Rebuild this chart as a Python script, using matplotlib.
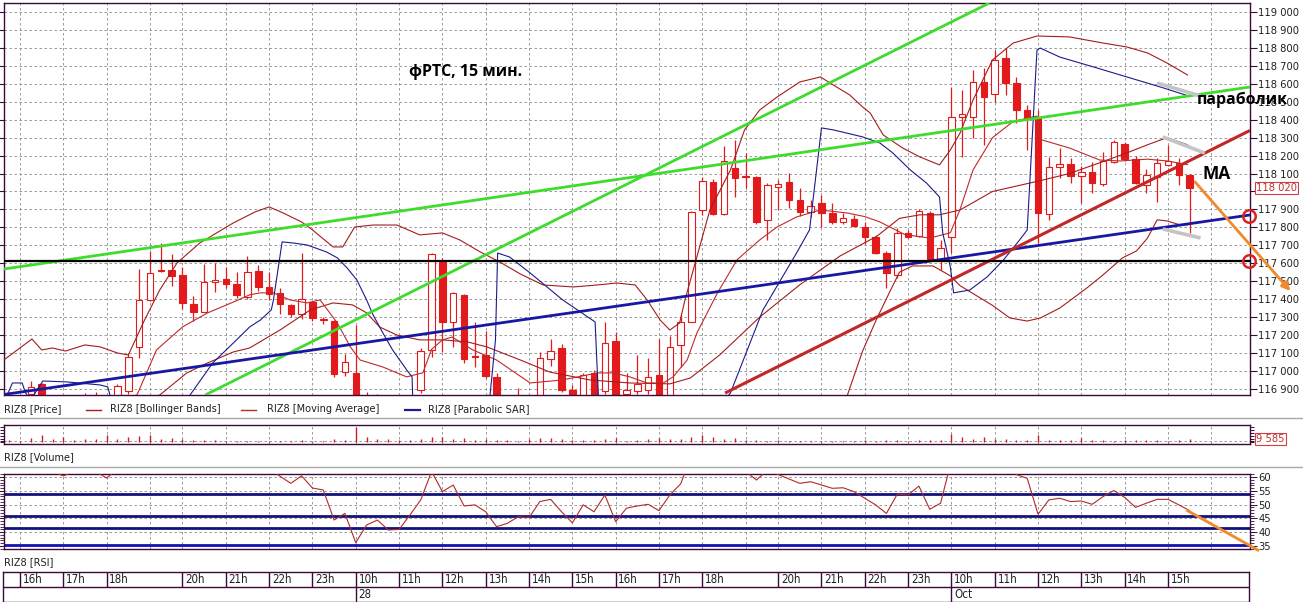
import numpy as np
import matplotlib
matplotlib.use('Agg')
import matplotlib.pyplot as plt
from matplotlib.lines import Line2D
from matplotlib.patches import Rectangle
from matplotlib.ticker import FuncFormatter
import matplotlib.transforms as mtransforms
from matplotlib import font_manager

# ---------------- DATA ----------------
# OHLC per 15-min bar (bar index 0..109)
opens = [116820, 116800, 116872, 116928, 116820, 116800, 116790, 116810, 116820, 116840,
         116830, 116890, 117132, 117396, 117557, 117563, 117535, 117373, 117330, 117494,
         117511, 117483, 117414, 117557, 117466, 117433, 117368, 117316, 117383, 117287,
         117279, 116993, 116987, 116750, 116800, 116760, 116740, 116780, 116894, 117117,
         117609, 117275, 117423, 117082, 117089, 116965, 116830, 116800, 116850, 116850,
         117065, 117126, 116894, 116830, 116987, 116890, 117165, 116872, 116890, 116894,
         116978, 116850, 117145, 117275, 117897, 118051, 117875, 118129, 118085, 118083,
         117841, 118023, 118051, 117953, 117887, 117934, 117882, 117832, 117845, 117800,
         117748, 117659, 117535, 117770, 117752, 117882, 117618, 117745, 118413, 118417,
         118612, 118542, 118742, 118606, 118454, 118408, 117875, 118138, 118152, 118086,
         118110, 118040, 118163, 118265, 118179, 118036, 118083, 118148, 118161, 118092]
highs = [116850, 116840, 116946, 116935, 116850, 116840, 116830, 116875, 116880, 116860,
         116930, 117100, 117567, 117668, 117715, 117650, 117581, 117418, 117596, 117600,
         117581, 117550, 117641, 117590, 117553, 117461, 117375, 117659, 117390, 117303,
         117285, 117095, 117256, 116880, 116870, 116820, 116800, 116840, 117126, 117656,
         117630, 117440, 117430, 117275, 117220, 116990, 116860, 116905, 116860, 117108,
         117176, 117150, 116920, 116987, 117005, 117275, 117219, 116987, 117089, 117071,
         117176, 117195, 117312, 117890, 118079, 118070, 118253, 118287, 118213, 118085,
         118045, 118062, 118101, 118018, 117953, 117980, 117934, 117880, 117869, 117830,
         117760, 117670, 117795, 117785, 117900, 117890, 117730, 118580, 118565, 118677,
         118686, 118788, 118798, 118640, 118480, 118454, 118194, 118240, 118187, 118140,
         118166, 118222, 118285, 118275, 118198, 118124, 118187, 118259, 118185, 118095]
lows = [116760, 116750, 116840, 116800, 116780, 116760, 116750, 116780, 116790, 116800,
        116820, 116872, 117071, 117390, 117550, 117474, 117344, 117280, 117330, 117438,
        117461, 117408, 117400, 117447, 117396, 117316, 117300, 117288, 117280, 117262,
        116968, 116972, 116700, 116700, 116720, 116700, 116690, 116740, 116877, 117080,
        117108, 117135, 117043, 117021, 116960, 116800, 116760, 116770, 116780, 116820,
        117028, 116880, 116800, 116810, 116820, 116870, 116800, 116820, 116870, 116870,
        116800, 116840, 117024, 117270, 117869, 117869, 117870, 117971, 118018, 117819,
        117730, 117897, 117906, 117864, 117860, 117804, 117820, 117820, 117800, 117708,
        117650, 117461, 117520, 117740, 117745, 117610, 117563, 117656, 118192, 118296,
        118259, 118500, 118538, 118380, 118231, 117711, 117841, 118074, 118046, 117934,
        117990, 118030, 118160, 118170, 118040, 117990, 117943, 118140, 118036, 117767]
closes = [116800, 116830, 116913, 116820, 116800, 116790, 116810, 116820, 116840, 116830,
          116916, 117080, 117396, 117544, 117560, 117531, 117381, 117330, 117494, 117507,
          117483, 117423, 117553, 117470, 117429, 117373, 117316, 117401, 117294, 117282,
          116983, 117052, 116750, 116800, 116760, 116740, 116780, 116820, 117113, 117652,
          117275, 117433, 117065, 117078, 116972, 116830, 116800, 116850, 116840, 117073,
          117113, 116894, 116830, 116980, 116850, 117154, 116830, 116894, 116926, 116965,
          116840, 117132, 117275, 117887, 118060, 117875, 118172, 118073, 118081, 117832,
          118036, 118042, 117953, 117887, 117921, 117882, 117832, 117850, 117808, 117748,
          117659, 117544, 117770, 117748, 117893, 117622, 117684, 118413, 118430, 118612,
          118528, 118733, 118603, 118454, 118408, 117882, 118138, 118153, 118088, 118110,
          118049, 118170, 118278, 118179, 118049, 118092, 118161, 118172, 118092, 118020]

volume = [6000, 5000, 12000, 22000, 9000, 18000, 8000, 11000, 9000, 23000,
          11000, 16000, 20000, 22000, 11000, 13000, 9000, 7000, 6500, 5500,
          4500, 3500, 4500, 3500, 3000, 4500, 3500, 5500, 4500, 3000,
          9000, 7500, 47000, 16000, 9000, 11000, 7500, 6500, 11000, 16000,
          15000, 9000, 13000, 5500, 11000, 7500, 5500, 4500, 9000, 13000,
          12000, 11000, 5500, 6500, 5500, 11000, 13000, 4500, 5500, 9000,
          13000, 11000, 11000, 16000, 24000, 15000, 11000, 13000, 7500, 5500,
          4500, 5500, 4500, 3500, 3500, 4500, 3500, 3500, 4500, 5500,
          3500, 7500, 6500, 4500, 5500, 7500, 5500, 26000, 15000, 9000,
          15000, 11000, 9000, 5500, 5500, 22000, 7500, 5500, 6500, 12000,
          5500, 5500, 4500, 5500, 6500, 5500, 5500, 4500, 5500, 9585]

rsi = [66, 68, 65, 63, 62, 60.4, 62, 64, 62, 59.6,
       63, 66, 70, 74, 72, 70, 68, 66, 67, 67,
       66, 65, 66, 64, 63, 60.3, 57.7, 60.4, 56.0, 55.3,
       44.4, 46.8, 36.2, 42.6, 44.4, 40.8, 41.0, 46.2, 51.7, 62,
       54.7, 57.1, 49.5, 49.9, 47.4, 42.0, 43.2, 45.6, 45.3, 51.1,
       51.9, 47.4, 43.4, 49.9, 47.4, 53.5, 43.8, 48.7, 49.5, 50.1,
       47.8, 53.5, 57.5, 68, 72, 67, 70, 66, 62, 58.9,
       62.5, 60.9, 59.3, 57.7, 58.3, 57.1, 55.9, 56.1, 54.7, 52.3,
       49.9, 46.8, 53.8, 53.5, 56.7, 48.3, 50.5, 66, 66, 69,
       67, 71, 68, 60.9, 59.5, 46.5, 51.7, 52.3, 51.1, 51.3,
       50.1, 52.9, 55.1, 52.6, 49.0, 50.5, 51.9, 51.9, 49.9, 47.8]

# indicator polylines: (bar index, price)
bb_upper = [(-0.5, 117061), (2.1, 117178), (3.0, 117117), (4.0, 117128), (5.2, 117111),
            (7.0, 117145), (8.4, 117134), (10.0, 117100), (11.0, 117089), (12.5, 117284),
            (13.9, 117451), (15.5, 117602), (17.6, 117713), (20.7, 117825), (22.7, 117886),
            (24.0, 117914), (25.3, 117880), (27.0, 117830), (28.0, 117786), (29.9, 117691),
            (30.8, 117691), (31.9, 117802), (33.6, 117813), (35.8, 117813), (37.9, 117758),
            (40.0, 117769), (41.6, 117730), (43.5, 117663), (45.3, 117607), (47.2, 117540),
            (49.3, 117479), (52.1, 117468), (54.3, 117479), (56.1, 117490), (57.8, 117479),
            (58.9, 117396), (60.1, 117284), (61.0, 117228), (61.9, 117267), (62.4, 117396),
            (63.8, 117702), (64.7, 117897), (66.6, 118120), (67.9, 118343), (69.3, 118454),
            (70.9, 118526), (73.0, 118610), (74.9, 118638), (76.1, 118593), (77.6, 118538),
            (78.8, 118471), (79.5, 118437), (80.7, 118315), (82.5, 118242), (84.1, 118192),
            (85.9, 118148), (86.9, 118231), (87.8, 118326), (89.0, 118510), (90.8, 118733),
            (92.7, 118827), (94.9, 118866), (97.9, 118861), (101.0, 118827), (103.2, 118805),
            (105.1, 118772), (106.9, 118716), (108.8, 118649)]
bb_middle = [(-0.5, 116700), (8, 116760), (12, 116830), (13.9, 116866), (16.4, 116989),
             (18.3, 117044), (20.7, 117106), (22.2, 117128), (25.0, 117228), (27.8, 117340),
             (29.9, 117379), (31.7, 117368), (33.0, 117324), (34.2, 117245), (35.8, 117200),
             (37.9, 117173), (40.0, 117173), (42.3, 117162), (44.1, 117134), (47.2, 117061),
             (49.9, 116994), (53.6, 116950), (57.3, 116933), (61.0, 116928), (62.9, 116961),
             (65.6, 117089), (69.3, 117300), (73.0, 117480), (76.7, 117640), (80.1, 117750),
             (82.2, 117850), (84.1, 117870), (85.9, 117870), (87.8, 117897), (90.8, 118000),
             (95.2, 118060), (97.9, 118100), (100.7, 118160), (103.2, 118215), (105.1, 118260),
             (106.9, 118300), (108.8, 118260)]
bb_lower = [(-0.5, 116500), (30, 116600), (45, 116700), (55, 116780), (62, 116800),
            (65, 116600), (70, 116400), (75, 116600), (77.4, 116866), (78.8, 117111),
            (80.1, 117290), (81.3, 117440), (82.2, 117550), (83.4, 117585), (85.3, 117585),
            (86.9, 117530), (87.8, 117475), (90.8, 117365), (92.4, 117295), (94.0, 117278),
            (95.2, 117295), (97.0, 117350), (99.5, 117462), (101.0, 117535), (102.8, 117630),
            (104.1, 117669), (105.1, 117740), (106.0, 117842), (106.9, 117836), (108.1, 117814),
            (108.8, 117814)]
moving_avg = [(-0.5, 116800), (6, 116820), (10, 116840), (11.8, 116866), (13.6, 117117),
              (16.0, 117245), (18.3, 117323), (20.7, 117384), (22.2, 117424), (23.2, 117435),
              (24.4, 117435), (25.9, 117396), (27.5, 117379), (28.7, 117396), (30.3, 117267),
              (31.5, 117134), (32.4, 117061), (34.5, 117022), (36.7, 116967), (38.2, 116990),
              (39.0, 117120), (40.0, 117173), (40.9, 117189), (42.8, 117117), (45.0, 117061),
              (48.1, 116933), (51.1, 116950), (54.3, 116989), (55.8, 116989), (57.3, 116967),
              (58.9, 116933), (60.4, 116933), (61.3, 116967), (62.6, 117061), (63.5, 117212),
              (65.4, 117435), (67.2, 117619), (69.3, 117730), (70.9, 117802), (72.7, 117858),
              (74.9, 117897), (77.4, 117880), (79.0, 117860), (80.4, 117830), (82.7, 117760),
              (85.0, 117740), (86.9, 117770), (87.8, 117900), (89.0, 118120), (90.8, 118300),
              (92.7, 118390), (94.9, 118420), (95.2, 118290), (97.9, 118242), (100.7, 118175),
              (102.6, 118170), (105.1, 118180), (106.9, 118170), (108.8, 118150)]
parabolic_sar = [(-0.1, 116878), (0.3, 116933), (1.2, 116933), (1.5, 116878), (2.0, 116840),
                 (3.1, 116944), (5.3, 116939), (8.4, 116922), (9.1, 116911), (9.3, 116866),
                 (10, 116750), (13, 116700), (16.7, 116866), (18.8, 117045), (20.7, 117156),
                 (22.2, 117245), (23.2, 117284), (24.2, 117340), (24.4, 117396), (25.2, 117719),
                 (26.2, 117713), (27.5, 117702), (29.3, 117663), (30.3, 117630), (31.2, 117574),
                 (32.1, 117507), (33.0, 117396), (33.6, 117312), (34.5, 117212), (35.4, 117117),
                 (36.7, 117006), (37.2, 116967), (37.25, 116866), (40, 116600), (44.4, 116866),
                 (44.9, 117173), (45.1, 117657), (46.2, 117635), (48.1, 117546), (51.1, 117396),
                 (54.1, 117273), (54.4, 116866), (58, 116500), (63, 116600), (66.6, 116878),
                 (69.6, 117340), (72.7, 117657), (73.9, 117786), (75.0, 118354), (76.1, 118343),
                 (78.8, 118304), (80.4, 118270), (81.6, 118214), (83.2, 118120), (84.7, 118047),
                 (85.9, 117969), (86.2, 117769), (86.9, 117579), (87.2, 117435), (88.7, 117451),
                 (90.3, 117524), (91.8, 117618), (93.3, 117730), (94.0, 117786), (94.9, 118788),
                 (95.2, 118799), (97.0, 118749), (100.1, 118694), (103.2, 118638), (106.3, 118582),
                 (109.0, 118530)]

# hand-drawn trend lines (bar index, price) end points
green_line_1 = [(-0.48, 117568), (114.57, 118582)]
green_line_2 = [(18.1, 116866), (90.5, 119050)]
blue_line = [(-0.48, 116869), (114.57, 117869)]
red_line = [(66.1, 116877), (114.57, 118340)]
black_level = 117615
gray_marks = [[(106.0, 118604), (110.0, 118532)],
              [(106.5, 118304), (110.4, 118214)],
              [(106.5, 117791), (110.0, 117741)]]
orange_arrow = [(109.5, 118053), (118.3, 117445)]
circle_levels = [117864, 117615]
last_price = 118020
last_volume = 9585
rsi_levels = [53.8, 45.9, 41.6, 35.4]
rsi_orange = [(108.8, 47.8), (115.3, 33.5)]

price_ticks = list(range(116900, 119001, 100))
grid_idx = [1, 5, 9, 13, 16, 20, 24, 28, 32, 36, 40, 44, 48, 52, 56, 60, 64, 68, 71,
            75, 79, 83, 87, 91, 95, 99, 103, 107, 111]
hour_idx = [1, 5, 9, 16, 20, 24, 28, 32, 36, 40, 44, 48, 52, 56, 60, 64, 71, 75, 79, 83,
            87, 91, 95, 99, 103, 107]
hour_lbl = ['16h', '17h', '18h', '20h', '21h', '22h', '23h', '10h', '11h', '12h', '13h',
            '14h', '15h', '16h', '17h', '18h', '20h', '21h', '22h', '23h', '10h', '11h',
            '12h', '13h', '14h', '15h']
date_idx = [32, 87]
date_lbl = ['28', 'Oct']

# ---------------- FONTS ----------------
_fonts = {(f.name, f.stretch) for f in font_manager.fontManager.ttflist}
_names = {n for n, s in _fonts}
if 'Liberation Sans Narrow' in _names:
    NARROW, STRETCH, FS, FST = ['Liberation Sans Narrow', 'DejaVu Sans'], 'normal', 9.0, 9.0
elif ('DejaVu Sans', 'condensed') in _fonts or ('DejaVu Sans', 'semi-condensed') in _fonts:
    NARROW, STRETCH, FS, FST = ['DejaVu Sans', 'Liberation Sans'], 'condensed', 7.8, 8.0
else:
    NARROW, STRETCH, FS, FST = ['Liberation Sans', 'DejaVu Sans'], 'normal', 7.8, 8.0
BOLD = ['Open Sans', 'DejaVu Sans']
plt.rcParams['font.family'] = NARROW
plt.rcParams['font.stretch'] = STRETCH

W, H = 1303, 602
fig = plt.figure(figsize=(W / 100, H / 100), dpi=100)
fig.patch.set_facecolor('white')

FRAME = '#3a0a3a'
GRID = '#8a8a8a'
CANDLE = '#e31a1c'
IND = '#a51c1c'
SARC = '#1c1c8c'
TXT = '#202020'


def rect(x0, y0, x1, y1):
    return [x0 / W, 1 - y1 / H, (x1 - x0) / W, (y1 - y0) / H]


def fx(x):
    return x / W


def fy(y):
    return 1 - y / H


XLIM = (-0.48, 114.57)


def style_frame(a):
    for s in a.spines.values():
        s.set_color(FRAME)
        s.set_linewidth(1.0)
    a.set_xlim(*XLIM)
    a.set_xticks(grid_idx)
    a.tick_params(axis='x', length=0, labelbottom=False)
    a.grid(True, axis='x', color=GRID, linestyle=(0, (3, 3)), linewidth=0.6)
    a.set_axisbelow(True)


def ntext(x, y, s, **kw):
    kw.setdefault('fontsize', FS)
    kw.setdefault('color', TXT)
    return fig.text(fx(x), fy(y), s, ha='left', va='center', fontstretch=STRETCH, **kw)


# ---------------- MAIN PRICE PANEL ----------------
ax = fig.add_axes(rect(4, 3, 1250, 395))
style_frame(ax)
ax.set_ylim(116866, 119050)
ax.set_yticks(price_ticks)
ax.grid(True, axis='y', color=GRID, linestyle=(0, (3, 3)), linewidth=0.6)
ax.yaxis.set_major_formatter(FuncFormatter(lambda v, p: f"{int(v):,}".replace(',', ' ')))
ax.tick_params(axis='y', left=True, right=True, labelleft=False, labelright=True,
               direction='out', length=5, width=0.8, color=FRAME, pad=1,
               labelsize=FST, labelcolor=TXT)

idx = np.arange(len(opens))
for i in idx:
    o, h, l, c = opens[i], highs[i], lows[i], closes[i]
    ax.vlines(i, l, h, color=CANDLE, lw=0.9, zorder=2)
    up = c >= o
    bot = min(o, c)
    hgt = max(abs(c - o), 4)
    ax.add_patch(Rectangle((i - 0.3, bot), 0.6, hgt,
                           facecolor='white' if up else CANDLE,
                           edgecolor=CANDLE, lw=0.8, zorder=2.5))

for series, col, lw in [(bb_upper, IND, 0.8), (bb_middle, IND, 0.8),
                        (bb_lower, IND, 0.8), (moving_avg, '#c02a2a', 0.8),
                        (parabolic_sar, SARC, 0.8)]:
    xs, ys = zip(*series)
    ax.plot(xs, ys, color=col, lw=lw, zorder=3)

for pts, col, lw in [(green_line_1, '#3fdc2f', 2.0), (green_line_2, '#3fdc2f', 2.0),
                     (blue_line, '#1818a0', 2.0), (red_line, '#c42626', 2.2)]:
    xs, ys = zip(*pts)
    ax.plot(xs, ys, color=col, lw=lw, zorder=4, solid_capstyle='butt')
ax.axhline(black_level, color='black', lw=1.6, zorder=4)

for seg in gray_marks:
    xs, ys = zip(*seg)
    ax.plot(xs, ys, color='#c4c4c4', lw=2.6, zorder=4.5, solid_capstyle='butt')

ax.annotate('', xy=orange_arrow[1], xytext=orange_arrow[0],
            arrowprops=dict(arrowstyle='-|>', color='#f08a2c', lw=2.0,
                            mutation_scale=12, shrinkA=0, shrinkB=0),
            annotation_clip=False, zorder=6)

for lvl in circle_levels:
    ax.plot([XLIM[1] - 0.05], [lvl], marker='o', ms=9, mfc='none', mec='#e02020',
            mew=1.8, clip_on=False, zorder=7)

trans = mtransforms.blended_transform_factory(ax.transAxes, ax.transData)
ax.text(1.0048, last_price, '118 020', transform=trans, ha='left', va='center',
        fontsize=FST, fontstretch=STRETCH, color='#c03030', zorder=8,
        bbox=dict(boxstyle='square,pad=0.12', facecolor='white', edgecolor='#d04040', lw=0.8))

# annotations
fig.text(fx(409), fy(72), 'фРТС, 15 мин.', family=BOLD, fontweight='bold', fontsize=11.4,
         fontstretch='normal', ha='left', va='center', color='black')
fig.text(fx(1197), fy(100), 'параболик', family=BOLD, fontweight='bold', fontsize=11.4,
         fontstretch='normal', ha='left', va='center', color='black', zorder=10)
fig.text(fx(1203), fy(174), 'MA', family=BOLD, fontweight='bold', fontsize=12.5,
         fontstretch='normal', ha='left', va='center', color='black', zorder=10)

# legend row
ntext(4, 409, 'RIZ8 [Price]')
fig.add_artist(Line2D([fx(86), fx(101)], [fy(410), fy(410)], color=IND, lw=1.0))
ntext(110, 409, 'RIZ8 [Bollinger Bands]')
fig.add_artist(Line2D([fx(241), fx(256)], [fy(410), fy(410)], color='#c02a2a', lw=1.0))
ntext(267, 409, 'RIZ8 [Moving Average]')
fig.add_artist(Line2D([fx(405), fx(420)], [fy(410), fy(410)], color=SARC, lw=1.6))
ntext(428, 409, 'RIZ8 [Parabolic SAR]')

fig.add_artist(Line2D([0, 1], [fy(418), fy(418)], color='#a8a8a8', lw=1.0))
fig.add_artist(Line2D([0, 1], [fy(467), fy(467)], color='#a8a8a8', lw=1.0))

# ---------------- VOLUME PANEL ----------------
axv = fig.add_axes(rect(4, 425, 1250, 444))
style_frame(axv)
axv.set_ylim(-6000, 55000)
axv.set_yticks([5000])
axv.grid(True, axis='y', color=GRID, linestyle=(0, (3, 3)), linewidth=0.6)
axv.set_yticks(list(range(0, 55000, 10000)), minor=True)
axv.tick_params(axis='y', which='both', left=True, right=True, labelleft=False,
                labelright=False, direction='out', length=3, width=0.7, color=FRAME)
axv.vlines(idx, 0, volume, color='#c42020', lw=1.0, zorder=3)
transv = mtransforms.blended_transform_factory(axv.transAxes, axv.transData)
axv.text(1.0048, last_volume, '9 585', transform=transv, ha='left', va='center',
         fontsize=FST, fontstretch=STRETCH, color='#c03030',
         bbox=dict(boxstyle='square,pad=0.12', facecolor='white', edgecolor='#d04040', lw=0.8))
ntext(4, 457, 'RIZ8 [Volume]')

# ---------------- RSI PANEL ----------------
axr = fig.add_axes(rect(4, 474, 1250, 549))
style_frame(axr)
axr.set_ylim(33.9, 61.09)
axr.set_yticks([35, 40, 45, 50, 55, 60])
axr.set_yticks(list(range(34, 62)), minor=True)
axr.grid(True, axis='y', which='major', color=GRID, linestyle=(0, (3, 3)), linewidth=0.6)
axr.tick_params(axis='y', which='major', left=True, right=True, labelleft=False,
                labelright=True, direction='out', length=5, width=0.7, color=FRAME,
                pad=1, labelsize=FST, labelcolor=TXT)
axr.tick_params(axis='y', which='minor', left=True, right=True, direction='out',
                length=3, width=0.6, color=FRAME)
for k, lvl in enumerate(rsi_levels):
    axr.axhline(lvl, color='#12127a' if k < 3 else '#1414b4', lw=2.0, zorder=2)
axr.plot(idx, rsi, color='#b02a2a', lw=0.8, zorder=3)
xs, ys = zip(*rsi_orange)
axr.plot(xs, ys, color='#f08a2c', lw=2.0, clip_on=False, zorder=5)
ntext(4, 562, 'RIZ8 [RSI]')

# ---------------- TIME AXIS ----------------
axt = fig.add_axes(rect(3, 572, 1249, 602))
axt.set_xlim((3 - 9.2) / 10.83, (1249 - 9.2) / 10.83)
axt.set_ylim(0, 2)
axt.set_xticks([])
axt.set_yticks([])
for s in axt.spines.values():
    s.set_color(FRAME)
    s.set_linewidth(1.0)
axt.axhline(1, color=FRAME, lw=1.0)
axt.vlines(hour_idx, 1, 2, color=FRAME, lw=1.0)
axt.vlines(date_idx, 0, 1, color=FRAME, lw=1.0)
for i, t in zip(hour_idx, hour_lbl):
    axt.text(i + 0.25, 1.5, t, ha='left', va='center', fontsize=FS + 0.5,
             fontstretch=STRETCH, color=TXT)
for i, t in zip(date_idx, date_lbl):
    axt.text(i + 0.25, 0.5, t, ha='left', va='center', fontsize=FS + 0.5,
             fontstretch=STRETCH, color=TXT)

fig.savefig('out.png', dpi=100, facecolor='white')
